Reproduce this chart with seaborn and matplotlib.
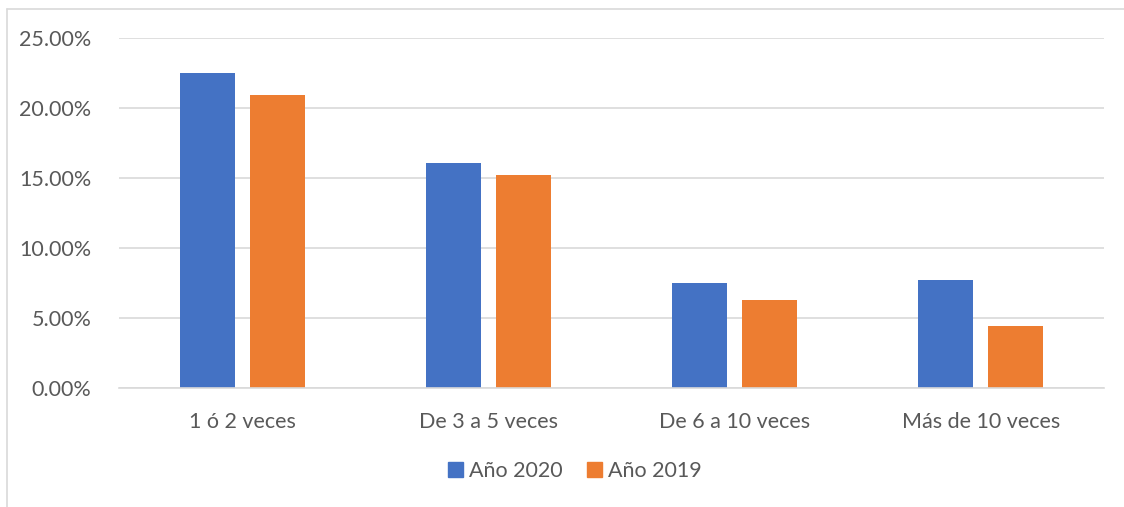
import matplotlib
matplotlib.use("Agg")
import matplotlib.pyplot as plt
from matplotlib.lines import Line2D
from matplotlib.ticker import FuncFormatter, MultipleLocator
import seaborn as sns
import pandas as pd

categories = ["1 ó 2 veces", "De 3 a 5 veces", "De 6 a 10 veces", "Más de 10 veces"]
series_names = ["Año 2020", "Año 2019"]
values_2020 = [22.5, 16.1, 7.5, 7.7]
values_2019 = [20.9, 15.2, 6.3, 4.45]
colors = ["#4472C4", "#ED7D31"]

df = pd.DataFrame({
    "cat": categories * 2,
    "serie": [series_names[0]] * 4 + [series_names[1]] * 4,
    "val": values_2020 + values_2019,
})

sns.set_theme(style="white")
plt.rcParams["font.family"] = ["Lato", "DejaVu Sans"]

fig = plt.figure(figsize=(11.24, 5.07), dpi=100)
ax = fig.add_axes([119 / 1124, 1 - 388 / 507, (1104 - 119) / 1124, (388 - 38) / 507])

sns.barplot(data=df, x="cat", y="val", hue="serie", palette=colors,
            width=0.569, gap=0.214, ax=ax, legend=False, saturation=1,
            edgecolor="none")

ax.set_ylim(0, 25)
ax.set_xlim(-0.5, 3.5)
ax.yaxis.set_major_locator(MultipleLocator(5))
ax.yaxis.set_major_formatter(FuncFormatter(lambda v, p: f"{v:.2f}%"))
ax.grid(axis="y", color="#d9d9d9", linewidth=1.2)
ax.set_axisbelow(True)
for s in ["left", "right", "top"]:
    ax.spines[s].set_visible(False)
ax.spines["bottom"].set_color("#d9d9d9")
ax.spines["bottom"].set_linewidth(1.2)
ax.tick_params(axis="both", length=0, labelsize=15.5, colors="#595959")
ax.tick_params(axis="x", pad=17)
ax.tick_params(axis="y", pad=20)
ax.set_xlabel("")
ax.set_ylabel("")

handles = [plt.Rectangle((0, 0), 1, 1, color=c) for c in colors]
fig.legend(handles, series_names, loc="center", bbox_to_anchor=(575 / 1124, 1 - 471 / 507),
           ncol=2, frameon=False, handlelength=0.7, handleheight=0.7,
           handletextpad=0.3, columnspacing=1.1, prop={"size": 15.5},
           labelcolor="#595959")

fig.add_artist(Line2D([7 / 1124, 7 / 1124], [0, 1 - 9 / 507], transform=fig.transFigure,
                      color="#d9d9d9", linewidth=1.2))
fig.add_artist(Line2D([7 / 1124, 1], [1 - 9 / 507, 1 - 9 / 507], transform=fig.transFigure,
                      color="#d9d9d9", linewidth=1.2))

fig.savefig("out.png", dpi=100)
